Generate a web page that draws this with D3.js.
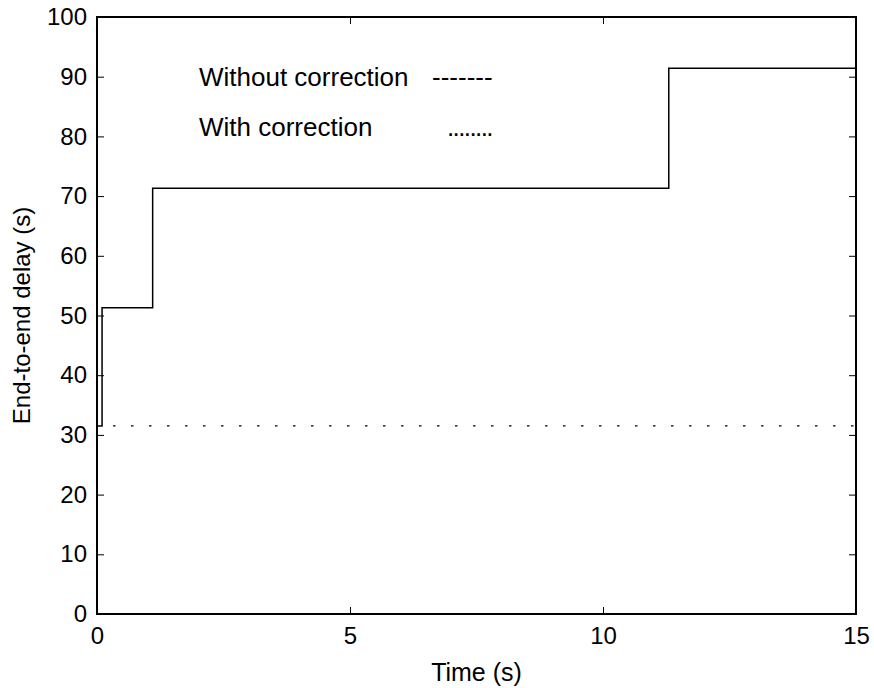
<!DOCTYPE html>
<html>
<head>
<meta charset="utf-8">
<script src="https://cdn.jsdelivr.net/npm/d3@7"></script>
<style>
  html, body { margin: 0; padding: 0; background: #fff; }
  text { font-family: "Liberation Sans", Arial, sans-serif; fill: #000; }
</style>
</head>
<body>
<svg id="chart" width="874" height="688"></svg>
<script>
// End-to-end delay over time, with and without correction
const stepTimes  = [0, 0.1, 0.1, 1.1, 1.1, 11.3, 11.3, 15];
const stepDelays = [31.5, 31.5, 51.3, 51.3, 71.3, 71.3, 91.4, 91.4];
const corrTimes  = [0, 15];
const corrDelays = [31.5, 31.5];
const xTicks = [0, 5, 10, 15];
const yTicks = [0, 10, 20, 30, 40, 50, 60, 70, 80, 90, 100];
const legendLabels = ["Without correction", "With correction"];
const legendGlyphs = ["-------", "........"];

const W = 874, H = 688;
const m = { left: 97, right: 18, top: 17, bottom: 74 };
const svg = d3.select("#chart");
const x = d3.scaleLinear().domain([0, 15]).range([m.left, W - m.right]);
const y = d3.scaleLinear().domain([0, 100]).range([H - m.bottom, m.top]);
const tick = 7, fs = 24, fsLegend = 26;

// axes with inward ticks on all four sides
const gB = svg.append("g").attr("transform", `translate(0,${y(0)})`)
  .call(d3.axisBottom(x).tickValues(xTicks).tickSizeInner(-tick).tickSizeOuter(0).tickPadding(13));
const gT = svg.append("g").attr("transform", `translate(0,${y(100)})`)
  .call(d3.axisTop(x).tickValues(xTicks).tickSizeInner(-tick).tickSizeOuter(0).tickFormat(""));
const gL = svg.append("g").attr("transform", `translate(${x(0)},0)`)
  .call(d3.axisLeft(y).tickValues(yTicks).tickSizeInner(-tick).tickSizeOuter(0).tickPadding(10));
const gR = svg.append("g").attr("transform", `translate(${x(15)},0)`)
  .call(d3.axisRight(y).tickValues(yTicks).tickSizeInner(-tick).tickSizeOuter(0).tickFormat(""));
[gB, gT, gL, gR].forEach(g => {
  g.select(".domain").remove();
  g.selectAll("line").attr("stroke", "#000").attr("stroke-width", 1);
  g.selectAll("text").attr("font-size", fs).attr("font-family", "Liberation Sans, Arial, sans-serif").attr("fill", "#000");
});

// frame
svg.append("rect")
  .attr("x", x(0)).attr("y", y(100))
  .attr("width", x(15) - x(0)).attr("height", y(0) - y(100))
  .attr("fill", "none").attr("stroke", "#000").attr("stroke-width", 2);

// series
const line = d3.line().x(d => x(d[0])).y(d => y(d[1]));
svg.append("path")
  .datum(d3.zip(stepTimes, stepDelays))
  .attr("d", line).attr("fill", "none").attr("stroke", "#000").attr("stroke-width", 1.5);
svg.append("path")
  .datum(d3.zip(corrTimes, corrDelays))
  .attr("d", line).attr("fill", "none").attr("stroke", "#000").attr("stroke-width", 1.2)
  .attr("stroke-dasharray", "2.5,15.5").attr("stroke-dashoffset", -16);

// legend
const lg = svg.append("g");
legendLabels.forEach((t, i) => {
  lg.append("text").attr("x", 199).attr("y", 86 + i * 50).attr("font-size", fsLegend).text(t);
  lg.append("text").attr("x", i === 0 ? 432 : 447).attr("y", 86 + i * 50).attr("font-size", fsLegend)
    .attr("letter-spacing", i === 0 ? 0 : -1.6).text(legendGlyphs[i]);
});

// axis titles
svg.append("text").attr("x", x(7.5)).attr("y", 681).attr("text-anchor", "middle")
  .attr("font-size", 25).text("Time (s)");
svg.append("text").attr("transform", `translate(30,${(y(0) + y(100)) / 2}) rotate(-90)`)
  .attr("text-anchor", "middle").attr("font-size", fs).text("End-to-end delay (s)");
</script>
</body>
</html>
